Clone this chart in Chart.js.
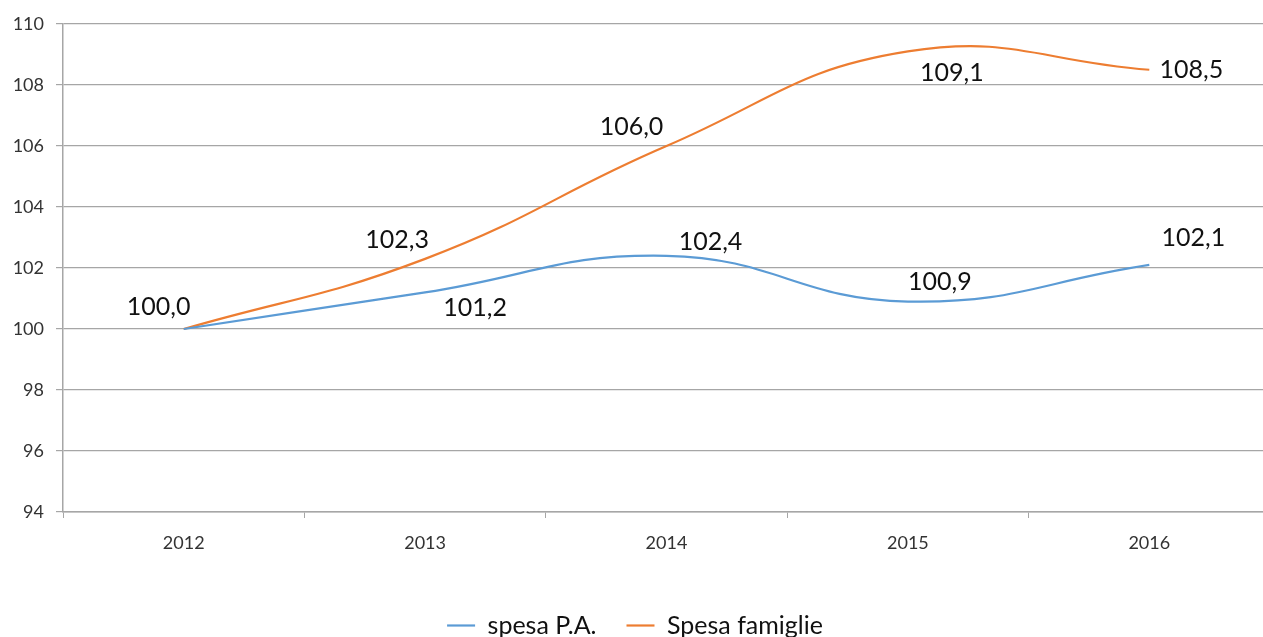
<!DOCTYPE html>
<html>
<head>
<meta charset="utf-8">
<script src="https://cdn.jsdelivr.net/npm/chart.js@4.4.1/dist/chart.umd.min.js"></script>
<style>
  html, body { margin: 0; padding: 0; background: #fff; overflow: hidden; }
  #wrap { width: 1271px; height: 648px; }
</style>
</head>
<body>
<div id="wrap"><canvas id="chart"></canvas></div>
<script>
const years = ['2012', '2013', '2014', '2015', '2016'];
const spesaPA = [100.0, 101.2, 102.4, 100.9, 102.1];
const spesaFamiglie = [100.0, 102.3, 106.0, 109.1, 108.5];
const yTicks = [94, 96, 98, 100, 102, 104, 106, 108, 110];

// where each value label sits relative to its point (Excel-like placement)
const labelOffsetsPA = [[-25, -22], [50, 16], [44, -14], [32, -20], [44, -27]];
const labelOffsetsFam = [null, [-28, -19], [-35, -19], [44, 21], [42, 0]];

const valueLabels = {
  id: 'valueLabels',
  afterDatasetsDraw(chart) {
    const ctx = chart.ctx;
    ctx.save();
    ctx.font = '25px Lato';
    ctx.fillStyle = '#111';
    ctx.textAlign = 'center';
    ctx.textBaseline = 'middle';
    chart.data.datasets.forEach((ds, di) => {
      const meta = chart.getDatasetMeta(di);
      meta.data.forEach((pt, i) => {
        const off = ds.labelOffsets[i];
        if (!off) return;
        const txt = ds.data[i].toFixed(1).replace('.', ',');
        ctx.fillText(txt, pt.x + off[0], pt.y + off[1]);
      });
    });
    ctx.restore();
  }
};

new Chart(document.getElementById('chart'), {
  type: 'line',
  data: {
    labels: years,
    datasets: [
      {
        label: 'spesa P.A.',
        data: spesaPA,
        labelOffsets: labelOffsetsPA,
        borderColor: '#5B9BD5',
        backgroundColor: '#5B9BD5',
        borderWidth: 2.2,
        pointRadius: 0,
        tension: 0.45
      },
      {
        label: 'Spesa famiglie',
        data: spesaFamiglie,
        labelOffsets: labelOffsetsFam,
        borderColor: '#ED7D31',
        backgroundColor: '#ED7D31',
        borderWidth: 2.2,
        pointRadius: 0,
        tension: 0.45
      }
    ]
  },
  options: {
    responsive: true,
    maintainAspectRatio: false,
    animation: false,
    layout: { padding: { top: 24, right: 1, left: 0, bottom: 0 } },
    plugins: {
      tooltip: { enabled: false },
      legend: {
        position: 'bottom',
        labels: {
          usePointStyle: true,
          pointStyle: 'line',
          pointStyleWidth: 28,
          padding: 30,
          color: '#111',
          font: { family: 'Lato', size: 25 }
        }
      }
    },
    scales: {
      x: {
        offset: true,
        grid: {
          offset: true,
          drawOnChartArea: false,
          drawTicks: true,
          tickLength: 6,
          color: '#a6a6a6'
        },
        border: { color: '#a6a6a6', width: 1.5 },
        ticks: {
          color: '#333',
          padding: 14,
          maxRotation: 0,
          font: { family: 'Lato', size: 18 }
        },
        afterFit(scale) { scale.height = 71; }
      },
      y: {
        min: 94,
        max: 110,
        afterBuildTicks(scale) { scale.ticks = yTicks.map(v => ({ value: v })); },
        grid: {
          color: '#a6a6a6',
          lineWidth: 1.2,
          tickLength: 7
        },
        border: { color: '#a6a6a6', width: 1.5 },
        ticks: {
          color: '#333',
          padding: 12,
          font: { family: 'Lato', size: 18 }
        },
        afterFit(scale) { scale.width = 63; }
      }
    }
  },
  plugins: [valueLabels]
});
</script>
</body>
</html>
